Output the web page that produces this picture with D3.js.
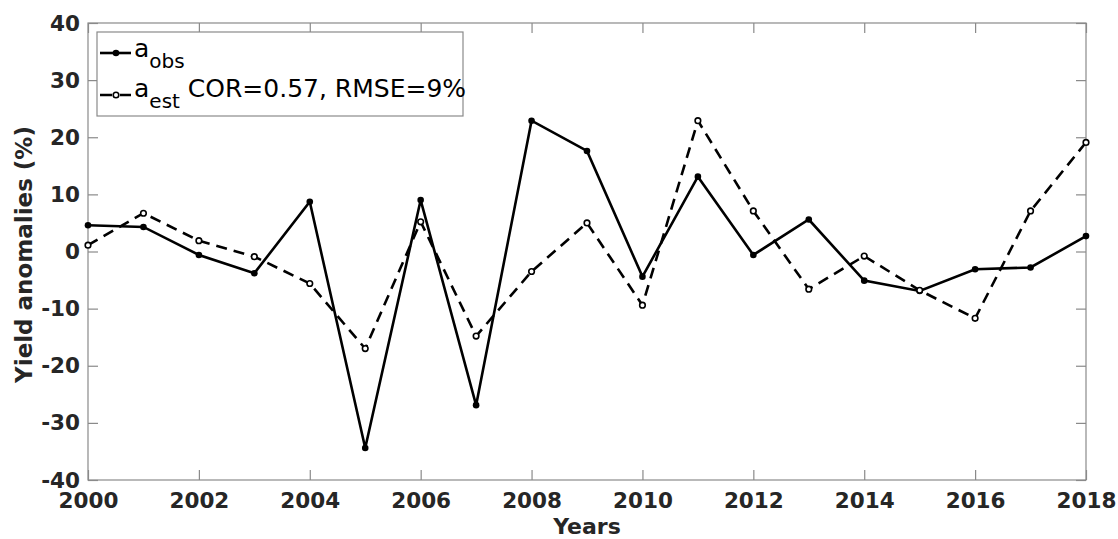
<!DOCTYPE html>
<html><head><meta charset="utf-8">
<script src="https://cdn.jsdelivr.net/npm/d3@7"></script>
<style>body{margin:0;background:#fff}svg{display:block}</style>
</head><body>
<script>
const years = [2000,2001,2002,2003,2004,2005,2006,2007,2008,2009,2010,2011,2012,2013,2014,2015,2016,2017,2018];
const obs = [4.6,4.3,-0.6,-3.8,8.7,-34.4,9.0,-26.9,22.9,17.6,-4.4,13.1,-0.6,5.6,-5.1,-6.9,-3.1,-2.8,2.7];
const est = [1.1,6.7,1.9,-0.9,-5.6,-17.0,5.2,-14.8,-3.5,5.0,-9.4,22.9,7.1,-6.6,-0.8,-6.8,-11.7,7.1,19.1];
const xTicks = [2000,2002,2004,2006,2008,2010,2012,2014,2016,2018];
const yTicks = [-40,-30,-20,-10,0,10,20,30,40];
const corText = "COR=0.57, RMSE=9%";

const W = 1118, H = 539;
const L = 88, R = 1086, T = 23, B = 480;
const svg = d3.select("body").append("svg").attr("width", W).attr("height", H);
const x = d3.scaleLinear().domain([2000,2018]).range([L,R]);
const y = d3.scaleLinear().domain([-40,40]).range([B,T]);
const font = "DejaVu Sans, sans-serif";
const axCol = "#8a8a8a", txtCol = "#262626";

// box
svg.append("rect").attr("x",L).attr("y",T).attr("width",R-L).attr("height",B-T)
  .attr("fill","none").attr("stroke",axCol).attr("stroke-width",1.2);

// ticks inward
const tl = 10;
const fmt = d => String(d);
const gx = svg.append("g").attr("transform",`translate(0,${B})`)
  .call(d3.axisBottom(x).tickValues(xTicks).tickFormat(fmt).tickSizeInner(-tl).tickSizeOuter(0));
const gxt = svg.append("g").attr("transform",`translate(0,${T})`)
  .call(d3.axisTop(x).tickValues(xTicks).tickFormat("").tickSizeInner(-tl).tickSizeOuter(0));
const gy = svg.append("g").attr("transform",`translate(${L},0)`)
  .call(d3.axisLeft(y).tickValues(yTicks).tickFormat(fmt).tickSizeInner(-tl).tickSizeOuter(0));
const gyr = svg.append("g").attr("transform",`translate(${R},0)`)
  .call(d3.axisRight(y).tickValues(yTicks).tickFormat("").tickSizeInner(-tl).tickSizeOuter(0));
[gx,gxt,gy,gyr].forEach(g=>{
  g.select(".domain").remove();
  g.selectAll(".tick line").attr("stroke",axCol).attr("stroke-width",1.2);
  g.selectAll("text").attr("font-family",font).attr("font-size",21.5).attr("font-weight","bold").attr("fill",txtCol);
});
gx.selectAll("text").attr("y",27.5).attr("dy",null);
gy.selectAll("text").attr("x",-8).attr("dy","0.33em");

// labels
svg.append("text").attr("x",(L+R)/2).attr("y",534).attr("text-anchor","middle")
  .attr("font-family",font).attr("font-size",22).attr("font-weight","bold").attr("fill",txtCol).text("Years");
svg.append("text").attr("transform",`translate(32,${(T+B)/2+3}) rotate(-90)`).attr("text-anchor","middle")
  .attr("font-family",font).attr("font-size",23).attr("font-weight","bold").attr("fill",txtCol).text("Yield anomalies (%)");

const line = d3.line().x((d,i)=>x(years[i])).y(d=>y(d));
svg.append("path").datum(est).attr("d",line).attr("fill","none").attr("stroke","#000")
  .attr("stroke-width",2.6).attr("stroke-dasharray","11,7");
svg.append("path").datum(obs).attr("d",line).attr("fill","none").attr("stroke","#000").attr("stroke-width",2.6);
svg.selectAll(".mo").data(obs).join("circle").attr("cx",(d,i)=>x(years[i])).attr("cy",d=>y(d))
  .attr("r",3.3).attr("fill","#000");
svg.selectAll(".me").data(est).join("circle").attr("cx",(d,i)=>x(years[i])).attr("cy",d=>y(d))
  .attr("r",2.8).attr("fill","#fff").attr("stroke","#000").attr("stroke-width",1.6);

// legend
const lg = svg.append("g");
lg.append("rect").attr("x",97).attr("y",32).attr("width",366).attr("height",84)
  .attr("fill","#fff").attr("stroke",axCol).attr("stroke-width",1.2);
lg.append("line").attr("x1",100).attr("x2",131).attr("y1",53).attr("y2",53).attr("stroke","#000").attr("stroke-width",2.6);
lg.append("circle").attr("cx",116).attr("cy",53).attr("r",3.3).attr("fill","#000");
lg.append("line").attr("x1",100).attr("x2",131).attr("y1",95).attr("y2",95).attr("stroke","#000").attr("stroke-width",2.6).attr("stroke-dasharray","12,8");
lg.append("circle").attr("cx",116).attr("cy",95).attr("r",2.8).attr("fill","#fff").attr("stroke","#000").attr("stroke-width",1.6);
const t1 = lg.append("text").attr("x",134).attr("y",57).attr("font-family",font).attr("font-size",25).attr("fill","#000");
t1.append("tspan").text("a");
t1.append("tspan").attr("font-size",20).attr("dy",11).text("obs");
const t2 = lg.append("text").attr("x",134).attr("y",97).attr("font-family",font).attr("font-size",25).attr("fill","#000");
t2.append("tspan").text("a");
t2.append("tspan").attr("font-size",20).attr("dy",11).text("est");
t2.append("tspan").attr("dy",-11).text(" " + corText);
</script>
</body></html>
